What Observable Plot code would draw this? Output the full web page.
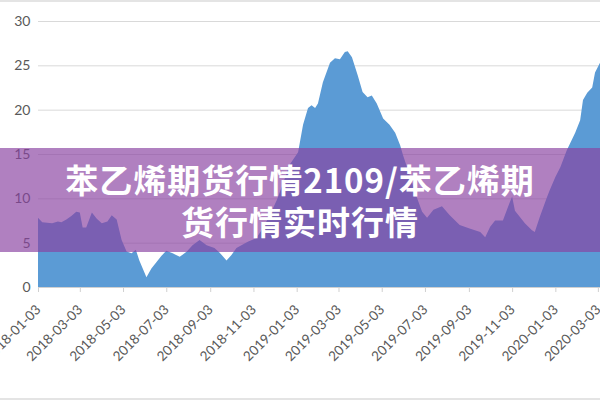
<!DOCTYPE html>
<html>
<head>
<meta charset="utf-8">
<script src="https://cdn.jsdelivr.net/npm/d3@7"></script>
<script src="https://cdn.jsdelivr.net/npm/@observablehq/plot@0.6"></script>
<style>
  html, body { margin: 0; padding: 0; background: #fff; }
  #wrap { position: relative; width: 600px; height: 400px; overflow: hidden; }
  #banner {
    position: absolute; left: 0; top: 148px; width: 600px; height: 104px;
    background: rgba(137, 66, 161, 0.67);
    color: #fff; text-align: center;
    font-family: "Noto Sans CJK SC", sans-serif; font-weight: 700;
    font-size: 33px; line-height: 42px; letter-spacing: 1px;
    padding-top: 10px; box-sizing: border-box;
  }
  .edge { position: absolute; left: 0; width: 600px; height: 2px; background: #e4e4e4; }
</style>
</head>
<body>
<div id="wrap">
  <div id="chart"></div>
  <div id="banner">苯乙烯期货行情2109/苯乙烯期<br>货行情实时行情</div>
  <div class="edge" style="top:0"></div>
  <div class="edge" style="top:398px"></div>
</div>
<script>
const dates = [
  "2018-01-03","2018-01-09","2018-01-23","2018-01-31","2018-02-05","2018-02-12","2018-02-19","2018-02-26",
  "2018-03-03","2018-03-07","2018-03-12","2018-03-20","2018-03-27","2018-04-03","2018-04-11","2018-04-17",
  "2018-04-24","2018-05-01","2018-05-08","2018-05-15","2018-05-21","2018-05-26","2018-06-05","2018-06-12",
  "2018-06-19","2018-06-26","2018-07-03","2018-07-12","2018-07-22","2018-08-01","2018-08-09","2018-08-19",
  "2018-08-29","2018-09-09","2018-09-16","2018-09-26","2018-10-03","2018-10-10","2018-10-17","2018-10-26",
  "2018-11-07","2018-11-16","2018-11-26","2018-12-06","2018-12-14","2018-12-24","2019-01-05","2019-01-12",
  "2019-01-19","2019-01-24","2019-01-29","2019-02-02","2019-02-09","2019-02-19","2019-02-26","2019-03-05",
  "2019-03-12","2019-03-16","2019-03-22","2019-03-30","2019-04-06","2019-04-13","2019-04-19","2019-04-26",
  "2019-05-05","2019-05-14","2019-05-22","2019-05-29","2019-06-02","2019-06-12","2019-06-22","2019-06-29",
  "2019-07-06","2019-07-15","2019-07-27","2019-08-07","2019-08-21","2019-09-04","2019-09-19","2019-09-26",
  "2019-10-03","2019-10-10","2019-10-21","2019-10-28","2019-11-03","2019-11-07","2019-11-14","2019-11-21",
  "2019-12-01","2019-12-05","2019-12-12","2019-12-22","2019-12-26","2020-01-03","2020-01-10","2020-01-19",
  "2020-01-31","2020-02-07","2020-02-11","2020-02-17","2020-02-24","2020-02-28","2020-03-06"
];
const values = [
  7.8,7.3,7.2,7.4,7.3,7.6,8.0,8.5,
  8.4,6.7,6.7,8.4,7.7,7.2,7.4,8.1,
  7.6,5.3,4.0,3.8,4.2,3.0,1.1,2.1,
  2.8,3.5,4.1,3.8,3.4,4.0,4.7,5.3,
  4.7,4.4,3.9,3.0,3.6,4.4,4.7,5.1,
  5.5,6.6,8.1,9.8,11.5,13.8,15.2,18.3,
  20.2,20.5,20.2,20.7,23.1,25.3,25.8,25.7,
  26.5,26.6,25.9,23.9,22.0,21.4,21.6,20.7,
  19.0,18.3,17.4,16.0,14.9,12.5,10.0,8.5,
  7.8,8.7,9.1,8.1,7.0,6.6,6.2,5.6,
  6.8,7.5,7.5,9.0,10.2,8.6,7.9,7.2,
  6.4,6.2,7.9,10.1,10.9,12.4,13.5,15.4,
  17.4,18.8,21.1,21.9,22.5,24.2,25.3
];
const tickDates = [
  "2018-01-03","2018-03-03","2018-05-03","2018-07-03","2018-09-03","2018-11-03","2019-01-03",
  "2019-03-03","2019-05-03","2019-07-03","2019-09-03","2019-11-03","2020-01-03","2020-03-03"
];
const yTicks = [0, 5, 10, 15, 20, 25, 30];

const parse = d3.utcParse("%Y-%m-%d");
const data = dates.map((d, i) => ({date: parse(d), value: values[i]}));
const ticks = tickDates.map(parse);

const chart = Plot.plot({
  width: 600,
  height: 400,
  marginTop: 21,
  marginLeft: 38,
  marginRight: 0,
  marginBottom: 113,
  style: {fontFamily: "Lato, sans-serif", fontSize: "13.5px", color: "#595959", background: "transparent"},
  x: {type: "utc", domain: [parse("2018-01-03"), parse("2020-03-06")]},
  y: {domain: [0, 30]},
  marks: [
    Plot.gridY(yTicks, {stroke: "#d9d9d9", strokeOpacity: 1}),
    Plot.areaY(data, {x: "date", y: "value", fill: "#5b9bd5", curve: "linear"}),
    Plot.ruleY([0], {stroke: "#d0d0d0"}),
    Plot.axisY(yTicks, {tickSize: 0, tickPadding: 8, fontSize: 14, label: null, fill: "#595959"}),
    Plot.axisX(ticks, {tickSize: 5, stroke: "#d0d0d0", tickFormat: d3.utcFormat("%Y-%m-%d"), tickRotate: -45, tickPadding: 15, fontSize: 13.5, label: null, fill: "#595959"})
  ]
});
document.getElementById("chart").appendChild(chart);
</script>
</body>
</html>
